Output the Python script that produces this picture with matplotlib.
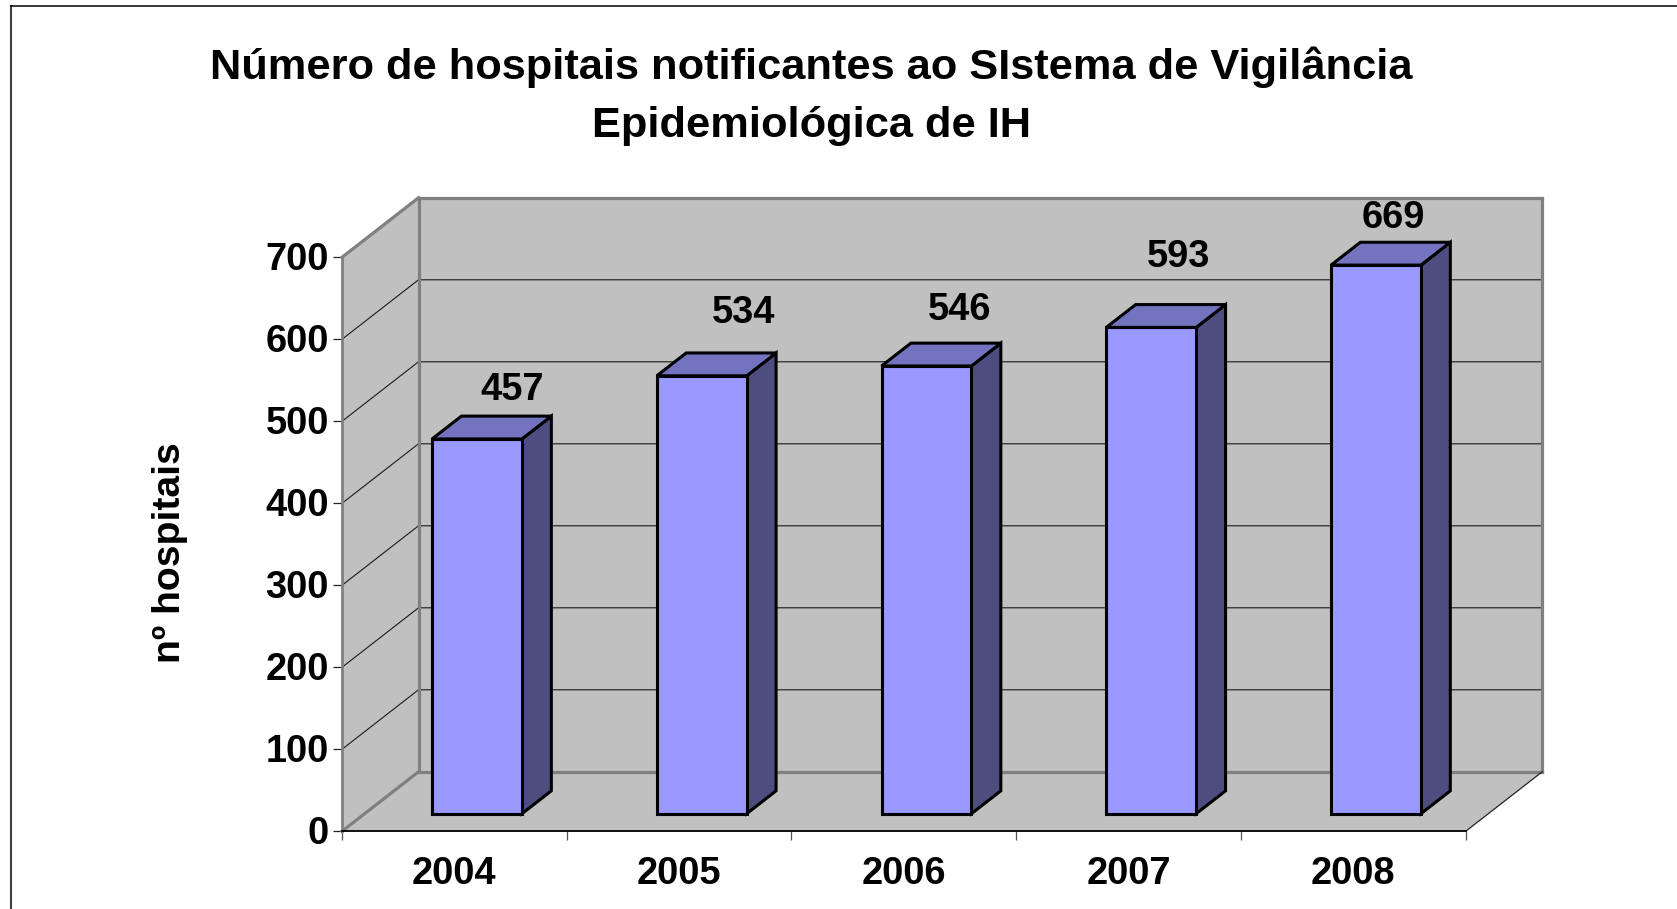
import matplotlib
matplotlib.use('Agg')
import matplotlib.pyplot as plt
from matplotlib.lines import Line2D
from matplotlib.patches import Polygon
from matplotlib.transforms import ScaledTranslation

# values
years = ['2004', '2005', '2006', '2007', '2008']
hospitals = [457, 534, 546, 593, 669]
y_ticks = [0, 100, 200, 300, 400, 500, 600, 700]
title = 'Número de hospitais notificantes ao SIstema de Vigilância\nEpidemiológica de IH'
y_label = 'nº hospitais'

# moved by hand in the original, offset from the middle of the bar top (px)
label_dx = [20, 26, 17, 12, 2]
label_dy = [37, 51, 44, 58, 35]

W, H = 1677, 909
plt.rcParams['font.family'] = ['Liberation Sans', 'DejaVu Sans']
plt.rcParams['font.weight'] = 'bold'

fig = plt.figure(figsize=(W / 100, H / 100), dpi=100)

# the axes is the front plane of the 3d box
left, right, bottom, top = 342, 1465.7, 831.3, 257.3
ax = fig.add_axes([left / W, 1 - bottom / H, (right - left) / W, (bottom - top) / H])
ax.set_xlim(0, len(years))
ax.set_ylim(0, 700)
ax.patch.set_visible(False)

# depth of the box, in data units
depth_x = 76.5 / ((right - left) / len(years))
depth_y = 59.5 / ((bottom - top) / 700)


def proj(x, v, d):
    return (x + d * depth_x, v + d * depth_y)


def face(points, color, edge=None, lw=0, z=1):
    ax.add_patch(Polygon(points, closed=True, facecolor=color, edgecolor=edge or color,
                         linewidth=lw, joinstyle='miter', clip_on=False, zorder=z))


wall = '#C0C0C0'
wall_edge = '#808080'
n = len(years)

# walls and floor
face([proj(0, 0, 1), proj(n, 0, 1), proj(n, 700, 1), proj(0, 700, 1)], wall)
face([proj(0, 0, 0), proj(0, 0, 1), proj(0, 700, 1), proj(0, 700, 0)], wall)
face([proj(0, 0, 0), proj(n, 0, 0), proj(n, 0, 1), proj(0, 0, 1)], wall)

# gridlines
for t in y_ticks[1:-1]:
    xs, ys = zip(proj(0, t, 0), proj(0, t, 1), proj(n, t, 1))
    ax.plot(xs, ys, color='#1A1A1A', lw=0.8, clip_on=False, zorder=2)

# wall outlines
for a, b in [((0, 700, 0), (0, 700, 1)), ((0, 700, 1), (n, 700, 1)), ((n, 700, 1), (n, 0, 1)),
             ((0, 0, 1), (0, 700, 1)), ((0, 0, 1), (n, 0, 1)), ((0, 0, 0), (0, 0, 1))]:
    xs, ys = zip(proj(*a), proj(*b))
    ax.plot(xs, ys, color=wall_edge, lw=2.3, clip_on=False, zorder=3, solid_capstyle='projecting')
xs, ys = zip(proj(n, 0, 0), proj(n, 0, 1))
ax.plot(xs, ys, color='#222222', lw=0.9, clip_on=False, zorder=3)

# bars
bar_w = 0.4
d0, d1 = 0.296, 0.68
for i, v in enumerate(hospitals):
    x0 = i + 0.5 - bar_w / 2
    x1 = i + 0.5 + bar_w / 2
    z = 5 + i
    face([proj(x1, 0, d0), proj(x1, 0, d1), proj(x1, v, d1), proj(x1, v, d0)],
         '#4D4D80', 'black', 2.2, z)
    face([proj(x0, v, d0), proj(x1, v, d0), proj(x1, v, d1), proj(x0, v, d1)],
         '#7373BF', 'black', 2.2, z)
    face([proj(x0, 0, d0), proj(x1, 0, d0), proj(x1, v, d0), proj(x0, v, d0)],
         '#9999FF', 'black', 2.2, z)
    ax.annotate(str(v), xy=proj(i + 0.5, v, 0.5), xycoords='data',
                xytext=(label_dx[i], label_dy[i]), textcoords='offset pixels',
                ha='center', va='center', fontsize=27.4, fontweight='bold',
                annotation_clip=False, zorder=20)

# axes
for side in ['top', 'right']:
    ax.spines[side].set_visible(False)
ax.spines['left'].set_color(wall_edge)
ax.spines['left'].set_linewidth(2.0)
ax.spines['bottom'].set_color('black')
ax.spines['bottom'].set_linewidth(1.3)
ax.spines['left'].set_zorder(4)
ax.spines['bottom'].set_zorder(4)

ax.set_yticks(y_ticks)
ax.set_yticklabels([str(t) for t in y_ticks])
ax.set_xticks(range(n + 1))
ax.set_xticklabels([])
ax.set_xticks([i + 0.5 for i in range(n)], labels=years, minor=True)
ax.tick_params(axis='y', length=6.5, width=0.9, color='#222222', pad=3, labelsize=27.4)
ax.tick_params(axis='x', which='major', length=6.5, width=0.9, color='#555555')
ax.tick_params(axis='x', which='minor', length=0, pad=18, labelsize=27.4)
up = ScaledTranslation(0, 1.5 / 100, fig.dpi_scale_trans)
for lab in ax.get_yticklabels():
    lab.set_fontweight('bold')
    lab.set_transform(lab.get_transform() + up)
for lab in ax.get_xticklabels(minor=True):
    lab.set_fontweight('bold')

fig.text(170 / W, 1 - 553 / H, y_label, rotation=90,
         ha='center', va='center', fontsize=28.2, fontweight='bold')

fig.text(811 / W, 1 - 96 / H, title, ha='center', va='center', fontsize=31.2,
         fontweight='bold', linespacing=1.58)

# frame of the slide, only left and top are in the picture
fig.add_artist(Line2D([11 / W, 11 / W], [0, 1 - 6 / H], color='#404040', lw=1.5))
fig.add_artist(Line2D([11 / W, 1], [1 - 6 / H, 1 - 6 / H], color='black', lw=1.1))

plt.savefig('out.png', dpi=100)
